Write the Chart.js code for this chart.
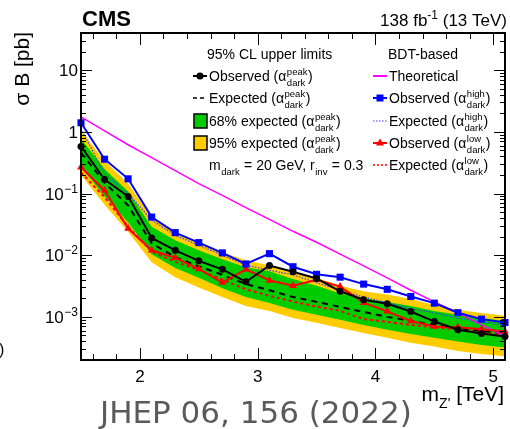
<!DOCTYPE html>
<html>
<head>
<meta charset="utf-8">
<script src="https://cdn.jsdelivr.net/npm/chart.js@4.4.0/dist/chart.umd.min.js"></script>
<style>
  html, body { margin: 0; padding: 0; background: #fff; }
  canvas { display: block; }
</style>
</head>
<body>
<canvas id="limits" width="510" height="429"></canvas>
<script>
// m_Z' mass points [TeV]
const massPoints = [1.5, 1.7, 1.9, 2.1, 2.3, 2.5, 2.7, 2.9, 3.1, 3.3, 3.5, 3.7, 3.9, 4.1, 4.3, 4.5, 4.7, 4.9, 5.1];

// sigma B [pb]
const theory = [1.75, 1.04, 0.617, 0.381, 0.235, 0.145, 0.093, 0.059, 0.038, 0.0244, 0.0162, 0.0104, 0.0067, 0.0043, 0.0027, 0.00175, 0.00116, 0.00074, 0.00049];
const obsPeak = [0.58, 0.168, 0.0895, 0.019, 0.012, 0.0081, 0.0059, 0.0037, 0.0068, 0.0054, 0.0042, 0.0026, 0.0019, 0.00163, 0.00122, 0.00084, 0.00062, 0.00054, 0.00048];
const expPeak = [0.46, 0.15, 0.064, 0.0156, 0.0093, 0.0066, 0.0048, 0.0034, 0.0027, 0.0021, 0.00175, 0.00145, 0.0012, 0.0010, 0.00086, 0.00074, 0.00066, 0.00059, 0.00055];
const band68Up = [0.77, 0.25, 0.108, 0.029, 0.0175, 0.012, 0.0086, 0.0064, 0.0055, 0.0041, 0.0032, 0.0024, 0.0020, 0.00175, 0.0015, 0.00125, 0.00108, 0.00096, 0.00086];
const band68Down = [0.27, 0.09, 0.034, 0.0104, 0.0062, 0.0043, 0.0029, 0.0021, 0.00168, 0.0013, 0.00108, 0.0009, 0.00074, 0.00062, 0.00053, 0.00046, 0.0004, 0.00035, 0.00032];
const band95Up = [1.04, 0.34, 0.145, 0.041, 0.0226, 0.0156, 0.0112, 0.0083, 0.0069, 0.0053, 0.0043, 0.0032, 0.0026, 0.0023, 0.00195, 0.00156, 0.0013, 0.00116, 0.00104];
const band95Down = [0.2, 0.066, 0.024, 0.0077, 0.0044, 0.003, 0.0021, 0.0015, 0.00125, 0.00096, 0.0008, 0.00066, 0.00055, 0.00046, 0.00038, 0.00033, 0.00028, 0.00025, 0.00023];
const obsHigh = [1.4, 0.36, 0.173, 0.0415, 0.0232, 0.016, 0.0109, 0.0072, 0.0106, 0.0065, 0.0049, 0.0044, 0.0034, 0.0028, 0.00214, 0.00167, 0.00117, 0.00092, 0.00081];
const expHigh = [1.12, 0.21, 0.1, 0.037, 0.021, 0.0145, 0.01, 0.0069, 0.0057, 0.0048, 0.0036, 0.0027, 0.0021, 0.0017, 0.00136, 0.00116, 0.00096, 0.00083, 0.00074];
const obsLow = [0.266, 0.112, 0.027, 0.012, 0.0091, 0.006, 0.0036, 0.0059, 0.0039, 0.0032, 0.004, 0.0031, 0.0017, 0.00123, 0.00086, 0.0007, 0.00068, 0.00063, 0.00058];
const expLow = [0.22, 0.087, 0.029, 0.0114, 0.0078, 0.0058, 0.004, 0.0028, 0.0022, 0.00177, 0.00147, 0.00125, 0.00092, 0.00083, 0.00074, 0.00068, 0.00062, 0.00056, 0.00051];

// axis labels
const xTickLabels = [2, 3, 4, 5];
const yTickLabels = [[10, '10', ''], [1, '1', ''], [0.1, '10', '\u22121'], [0.01, '10', '\u22122'], [0.001, '10', '\u22123']];

const FONT = '"Liberation Sans", Arial, Helvetica, sans-serif';
const GREEN = '#00cc00';
const YELLOW = '#ffcc00';

const pts = arr => massPoints.map((m, i) => ({ x: m, y: arr[i] }));

function lineSet(data, color, width, dash, pointStyle, radius, order) {
  return {
    data: pts(data), borderColor: color, backgroundColor: color, borderWidth: width,
    borderDash: dash || [], pointStyle: pointStyle || 'circle', pointRadius: radius || 0,
    pointBorderWidth: 0, fill: false, tension: 0, order: order, clip: false
  };
}

function bandSet(data, color, fill, order) {
  return {
    data: pts(data), borderColor: 'rgba(0,0,0,0)', backgroundColor: color, borderWidth: 0,
    pointRadius: 0, fill: fill, tension: 0, order: order
  };
}

// superscript / subscript pair, returns new x
function scripts(ctx, x, y, size, sup, sub) {
  ctx.font = size + 'px ' + FONT;
  let w = 0;
  if (sup) { ctx.fillText(sup, x, y - size * 0.62); w = Math.max(w, ctx.measureText(sup).width); }
  if (sub) { ctx.fillText(sub, x, y + size * 0.5); w = Math.max(w, ctx.measureText(sub).width); }
  return x + w;
}

function richText(ctx, x, y, parts, size) {
  ctx.textAlign = 'left';
  ctx.textBaseline = 'alphabetic';
  for (const p of parts) {
    if (typeof p === 'string') {
      ctx.font = size + 'px ' + FONT;
      ctx.fillText(p, x, y);
      x += ctx.measureText(p).width;
    } else {
      x = scripts(ctx, x + 0.5, y, size * 0.68, p[0], p[1]) + 0.5;
    }
  }
  return x;
}

function sample(ctx, x0, x1, y, color, width, dash) {
  ctx.save();
  ctx.strokeStyle = color;
  ctx.lineWidth = width;
  ctx.setLineDash(dash || []);
  ctx.beginPath();
  ctx.moveTo(x0, y);
  ctx.lineTo(x1, y);
  ctx.stroke();
  ctx.restore();
}

const frame = {
  id: 'frame',
  afterDraw(chart) {
    const ctx = chart.ctx;
    const a = chart.chartArea;
    const xs = chart.scales.x, ys = chart.scales.y;
    ctx.save();
    ctx.fillStyle = '#000';
    ctx.strokeStyle = '#000';

    // ticks (inside, all four sides)
    ctx.lineWidth = 1;
    ctx.beginPath();
    for (let v = 1.6; v < 5.1; v += 0.2) {
      const px = Math.round(xs.getPixelForValue(v)) + 0.5;
      const major = Math.abs(v - Math.round(v)) < 0.01;
      const len = major ? 12 : 6;
      ctx.moveTo(px, a.bottom); ctx.lineTo(px, a.bottom - len);
      ctx.moveTo(px, a.top); ctx.lineTo(px, a.top + len);
    }
    for (let d = -4; d <= 1; d++) {
      for (let k = 1; k <= 9; k++) {
        const v = k * Math.pow(10, d);
        if (v < ys.min || v > ys.max) continue;
        const py = Math.round(ys.getPixelForValue(v)) + 0.5;
        const len = k === 1 ? 11 : 5;
        ctx.moveTo(a.left, py); ctx.lineTo(a.left + len, py);
        ctx.moveTo(a.right, py); ctx.lineTo(a.right - len, py);
      }
    }
    ctx.stroke();

    // frame
    ctx.lineWidth = 2;
    ctx.strokeRect(a.left, a.top, a.right - a.left, a.bottom - a.top);

    // x tick labels
    ctx.font = '17px ' + FONT;
    ctx.textAlign = 'center';
    ctx.textBaseline = 'alphabetic';
    xTickLabels.forEach(v => ctx.fillText(String(v), xs.getPixelForValue(v), 382));

    // y tick labels
    yTickLabels.forEach(([v, base, ex]) => {
      const py = ys.getPixelForValue(v);
      ctx.textAlign = 'right';
      ctx.font = '12px ' + FONT;
      const we = ex ? ctx.measureText(ex).width : 0;
      if (ex) ctx.fillText(ex, 78, py - 1);
      ctx.font = '17px ' + FONT;
      ctx.fillText(base, 78 - we - (ex ? 0.5 : 0), py + 6);
    });

    // axis titles
    ctx.textAlign = 'left';
    ctx.font = '21px ' + FONT;
    const wm = ctx.measureText('m').width;
    const wt = ctx.measureText(' [TeV]').width;
    ctx.font = '14px ' + FONT;
    const wz = ctx.measureText("Z'").width;
    let tx = 504 - wm - wz - wt;
    ctx.font = '21px ' + FONT;
    ctx.fillText('m', tx, 401);
    ctx.font = '14px ' + FONT;
    ctx.fillText("Z'", tx + wm, 408);
    ctx.font = '21px ' + FONT;
    ctx.fillText(' [TeV]', tx + wm + wz, 401);

    ctx.save();
    ctx.translate(29, 32);
    ctx.rotate(-Math.PI / 2);
    ctx.textAlign = 'right';
    ctx.font = '21px ' + FONT;
    ctx.fillText('\u03c3 B [pb]', 0, 0);
    ctx.restore();

    // CMS label and luminosity
    ctx.textAlign = 'left';
    ctx.font = 'bold 22px ' + FONT;
    ctx.fillText('CMS', 82, 26);
    ctx.font = '17px ' + FONT;
    const l1 = '138 fb', l2 = ' (13 TeV)';
    const w1 = ctx.measureText(l1).width, w3 = ctx.measureText(l2).width;
    ctx.font = '12px ' + FONT;
    const w2 = ctx.measureText('-1').width;
    let lx = 507 - w1 - w2 - w3;
    ctx.font = '17px ' + FONT;
    ctx.fillText(l1, lx, 26);
    ctx.font = '12px ' + FONT;
    ctx.fillText('-1', lx + w1, 19);
    ctx.font = '17px ' + FONT;
    ctx.fillText(l2, lx + w1 + w2, 26);

    // legend, left column
    const L = 14;
    richText(ctx, 207, 59, ['95% CL upper limits'], L);
    richText(ctx, 388, 59, ['BDT-based'], L);

    const rows = [81, 103, 126, 148, 170];
    sample(ctx, 193, 207, rows[0] - 5, '#000', 2);
    ctx.beginPath(); ctx.arc(200, rows[0] - 5, 3.5, 0, Math.PI * 2); ctx.fill();
    richText(ctx, 209, rows[0], ['Observed (\u03b1', ['peak', 'dark'], ')'], L);

    sample(ctx, 193, 207, rows[1] - 5, '#000', 1.5, [4, 3]);
    richText(ctx, 209, rows[1], ['Expected (\u03b1', ['peak', 'dark'], ')'], L);

    ctx.lineWidth = 1.5;
    ctx.fillStyle = GREEN;
    ctx.fillRect(194, rows[2] - 12, 13, 14);
    ctx.strokeRect(194, rows[2] - 12, 13, 14);
    ctx.fillStyle = YELLOW;
    ctx.fillRect(194, rows[3] - 12, 13, 14);
    ctx.strokeRect(194, rows[3] - 12, 13, 14);
    ctx.fillStyle = '#000';
    richText(ctx, 209, rows[2], ['68% expected (\u03b1', ['peak', 'dark'], ')'], L);
    richText(ctx, 209, rows[3], ['95% expected (\u03b1', ['peak', 'dark'], ')'], L);
    richText(ctx, 209, rows[4], ['m', [null, 'dark'], ' = 20 GeV, r', [null, 'inv'], ' = 0.3'], L);

    // legend, right column
    const rr = [81, 103, 126, 148, 170];
    sample(ctx, 373, 387, rr[0] - 5, '#ff00ff', 2);
    richText(ctx, 389, rr[0], ['Theoretical'], L);

    sample(ctx, 373, 387, rr[1] - 5, '#0000ff', 2);
    ctx.fillStyle = '#0000ff';
    ctx.fillRect(376.5, rr[1] - 8.5, 7, 7);
    ctx.fillStyle = '#000';
    richText(ctx, 389, rr[1], ['Observed (\u03b1', ['high', 'dark'], ')'], L);

    sample(ctx, 373, 387, rr[2] - 5, '#3c3cff', 1.2, [1.5, 1.5]);
    richText(ctx, 389, rr[2], ['Expected (\u03b1', ['high', 'dark'], ')'], L);

    sample(ctx, 373, 387, rr[3] - 5, '#ff0000', 2);
    ctx.fillStyle = '#ff0000';
    ctx.beginPath();
    ctx.moveTo(380, rr[3] - 9.5); ctx.lineTo(384, rr[3] - 2.5); ctx.lineTo(376, rr[3] - 2.5);
    ctx.closePath(); ctx.fill();
    ctx.fillStyle = '#000';
    richText(ctx, 389, rr[3], ['Observed (\u03b1', ['low', 'dark'], ')'], L);

    sample(ctx, 373, 387, rr[4] - 5, '#ff0000', 1.5, [2, 2]);
    richText(ctx, 389, rr[4], ['Expected (\u03b1', ['low', 'dark'], ')'], L);

    // cropped remnant at the left border
    ctx.font = '16px ' + FONT;
    ctx.textAlign = 'left';
    ctx.fillText(')', -1, 355);

    // journal reference
    ctx.fillStyle = '#5a5a5a';
    ctx.font = '31px "DejaVu Sans", sans-serif';
    ctx.fillText('JHEP 06, 156 (2022)', 100, 423);
    ctx.restore();
  }
};

new Chart(document.getElementById('limits'), {
  type: 'line',
  data: {
    datasets: [
      bandSet(band95Up, YELLOW, '+1', 20),
      bandSet(band95Down, YELLOW, false, 19),
      bandSet(band68Up, GREEN, '+1', 18),
      bandSet(band68Down, GREEN, false, 17),
      lineSet(expLow, '#ff0000', 2, [3, 3], null, 0, 9),
      lineSet(expHigh, '#3c3cff', 1.2, [1.5, 1.5], null, 0, 8),
      lineSet(expPeak, '#000000', 2, [6, 5], null, 0, 7),
      lineSet(theory, '#ff00ff', 1.5, null, null, 0, 6),
      lineSet(obsLow, '#ff0000', 2, null, 'triangle', 4.5, 5),
      lineSet(obsHigh, '#0000ff', 2, null, 'rect', 5, 4),
      lineSet(obsPeak, '#000000', 2, null, 'circle', 3.5, 3)
    ]
  },
  options: {
    responsive: false,
    animation: false,
    devicePixelRatio: 1,
    layout: { padding: { left: 81, right: 4, top: 33, bottom: 69 } },
    scales: {
      x: { type: 'linear', min: 1.5, max: 5.1, display: false },
      y: { type: 'logarithmic', min: 2e-4, max: 40, display: false }
    },
    plugins: {
      legend: { display: false },
      tooltip: { enabled: false }
    }
  },
  plugins: [frame]
});
</script>
</body>
</html>
